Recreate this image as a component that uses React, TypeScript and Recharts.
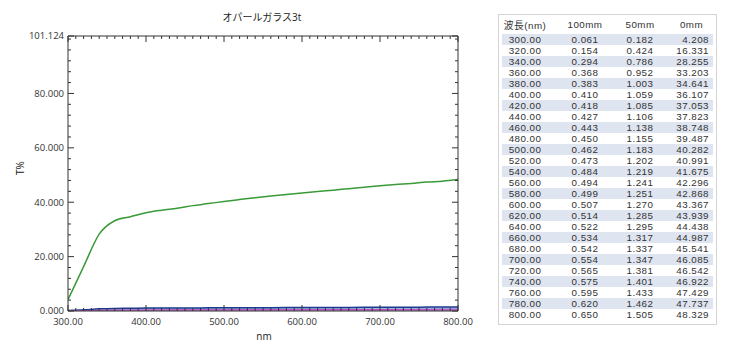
import { ComposedChart, Line, Area, XAxis, YAxis } from 'recharts'

const wavelengths = [
  300, 320, 340, 360, 380, 400, 420, 440, 460, 480, 500, 520, 540,
  560, 580, 600, 620, 640, 660, 680, 700, 720, 740, 760, 780, 800,
]
const t100mm = [
  0.061, 0.154, 0.294, 0.368, 0.383, 0.41, 0.418, 0.427, 0.443, 0.45, 0.462, 0.473, 0.484,
  0.494, 0.499, 0.507, 0.514, 0.522, 0.534, 0.542, 0.554, 0.565, 0.575, 0.595, 0.62, 0.65,
]
const t50mm = [
  0.182, 0.424, 0.786, 0.952, 1.003, 1.059, 1.085, 1.106, 1.138, 1.155, 1.183, 1.202, 1.219,
  1.241, 1.251, 1.27, 1.285, 1.295, 1.317, 1.337, 1.347, 1.381, 1.401, 1.433, 1.462, 1.505,
]
const t0mm = [
  4.208, 16.331, 28.255, 33.203, 34.641, 36.107, 37.053, 37.823, 38.748, 39.487, 40.282, 40.991, 41.675,
  42.296, 42.868, 43.367, 43.939, 44.438, 44.987, 45.541, 46.085, 46.542, 46.922, 47.429, 47.737, 48.329,
]

const xMajorTicks = [300, 400, 500, 600, 700, 800]
const yMajorTicks = [0, 20, 40, 60, 80, 101.124]
const yMax = 101.124

const tableHeaders = ['波長(nm)', '100mm', '50mm', '0mm']

// minor ticks: every 10 nm on x, every 4 on y
const xTicks: number[] = []
for (let v = 300; v <= 800; v += 10) xTicks.push(v)
const yTicks: number[] = []
for (let v = 0; v <= 100; v += 4) yTicks.push(v)
yMajorTicks.forEach((v) => { if (!yTicks.includes(v)) yTicks.push(v) })
yTicks.sort((a, b) => a - b)

const data = wavelengths.map((w, i) => ({
  nm: w,
  t100: t100mm[i],
  t50: t50mm[i],
  t0: t0mm[i],
}))

const FONT = '"Open Sans", "Noto Sans CJK JP", sans-serif'
const TABLE_FONT = '"Liberation Sans", "Noto Sans CJK JP", sans-serif'
const AXIS = '#333'
const tickText = { fontFamily: FONT, fontSize: 9.5, fill: '#333' }

// ─── ticks (drawn inward, like the source plot) ────────────────────

function BottomTick(props: any) {
  const { x, y, payload } = props
  const major = xMajorTicks.includes(payload.value)
  return (
    <g>
      <line x1={x} x2={x} y1={y} y2={y - (major ? 6 : 3)} stroke={AXIS} />
      {major && (
        <text x={x} y={y + 14} textAnchor="middle" {...tickText}>
          {payload.value.toFixed(2)}
        </text>
      )}
    </g>
  )
}

function TopTick(props: any) {
  const { x, y, payload } = props
  const major = xMajorTicks.includes(payload.value)
  return <line x1={x} x2={x} y1={y} y2={y + (major ? 6 : 3)} stroke={AXIS} />
}

function LeftTick(props: any) {
  const { x, y, payload } = props
  const major = yMajorTicks.includes(payload.value)
  return (
    <g>
      <line x1={x} x2={x + (major ? 6 : 3)} y1={y} y2={y} stroke={AXIS} />
      {major && (
        <text x={x - 4} y={y + 3.3} textAnchor="end" {...tickText}>
          {payload.value.toFixed(3)}
        </text>
      )}
    </g>
  )
}

function RightTick(props: any) {
  const { x, y, payload } = props
  const major = yMajorTicks.includes(payload.value)
  return <line x1={x} x2={x - (major ? 6 : 3)} y1={y} y2={y} stroke={AXIS} />
}

// ─── table ────────────────────

const colWidths = [46, 74, 36, 51]
const colAlign: ('center' | 'right')[] = ['center', 'center', 'center', 'right']

function DataTable() {
  const rows = wavelengths.map((w, i) => [
    w.toFixed(2),
    t100mm[i].toFixed(3),
    t50mm[i].toFixed(3),
    t0mm[i].toFixed(3),
  ])
  return (
    <div
      style={{
        position: 'absolute',
        left: 498,
        top: 14,
        width: 219,
        height: 311,
        boxSizing: 'border-box',
        border: '1px solid #d4d4d4',
        background: '#fff',
        paddingLeft: 3,
        fontFamily: TABLE_FONT,
        fontSize: 9.8,
        letterSpacing: 0.45,
        color: '#333',
      }}
    >
      <div style={{ display: 'flex', height: 19, alignItems: 'center' }}>
        {tableHeaders.map((h, c) => (
          <div
            key={h}
            style={{
              width: colWidths[c],
              textAlign: colAlign[c],
              paddingRight: c === 3 ? 6 : 0,
              boxSizing: 'border-box',
            }}
          >
            {h}
          </div>
        ))}
      </div>
      {rows.map((r, i) => (
        <div
          key={i}
          style={{
            display: 'flex',
            height: 11,
            lineHeight: '11px',
            width: 211,
            background: i % 2 === 0 ? '#dfe5f0' : 'transparent',
          }}
        >
          {r.map((cell, c) => (
            <div key={c} style={{ width: colWidths[c], textAlign: colAlign[c] }}>
              {cell}
            </div>
          ))}
        </div>
      ))}
    </div>
  )
}

// ─── App ────────────────────

export default function App() {
  return (
    <div style={{ position: 'absolute', left: 0, top: 0, width: 730, height: 356, background: '#fff' }}>
      <div
        style={{
          position: 'absolute',
          left: 162,
          width: 200,
          top: 9,
          textAlign: 'center',
          fontFamily: FONT,
          fontSize: 10,
          color: '#222',
        }}
      >
        オパールガラス3t
      </div>
      <div
        style={{
          position: 'absolute',
          left: 0,
          top: 161,
          width: 40,
          textAlign: 'center',
          transform: 'rotate(-90deg)',
          fontFamily: FONT,
          fontSize: 10,
          color: '#222',
        }}
      >
        T%
      </div>
      <div
        style={{
          position: 'absolute',
          left: 214,
          width: 100,
          top: 329,
          textAlign: 'center',
          fontFamily: FONT,
          fontSize: 10,
          color: '#222',
        }}
      >
        nm
      </div>

      <div style={{ position: 'absolute', left: 0, top: 0 }}>
        <ComposedChart
          width={480}
          height={356}
          data={data}
          margin={{ top: 31, right: 17, bottom: 15, left: 0 }}
        >
          <XAxis
            xAxisId="b"
            dataKey="nm"
            type="number"
            domain={[300, 800]}
            ticks={xTicks}
            interval={0}
            allowDataOverflow
            height={30}
            tickLine={false}
            tickSize={0}
            tickMargin={0}
            axisLine={{ stroke: AXIS }}
            tick={<BottomTick />}
          />
          <XAxis
            xAxisId="t"
            orientation="top"
            dataKey="nm"
            type="number"
            domain={[300, 800]}
            ticks={xTicks}
            interval={0}
            allowDataOverflow
            height={5}
            tickLine={false}
            tickSize={0}
            tickMargin={0}
            axisLine={{ stroke: AXIS }}
            tick={<TopTick />}
          />
          <YAxis
            yAxisId="l"
            type="number"
            domain={[0, yMax]}
            ticks={yTicks}
            interval={0}
            allowDataOverflow
            width={68}
            tickLine={false}
            tickSize={0}
            tickMargin={0}
            axisLine={{ stroke: AXIS }}
            tick={<LeftTick />}
          />
          <YAxis
            yAxisId="r"
            orientation="right"
            type="number"
            domain={[0, yMax]}
            ticks={yTicks}
            interval={0}
            allowDataOverflow
            width={5}
            tickLine={false}
            tickSize={0}
            tickMargin={0}
            axisLine={{ stroke: AXIS }}
            tick={<RightTick />}
          />
          <Area
            xAxisId="b"
            yAxisId="l"
            type="monotone"
            dataKey="t50"
            stroke="#1d3b8e"
            strokeWidth={1.5}
            fill="#8fb0e6"
            fillOpacity={0.9}
            isAnimationActive={false}
          />
          <Area
            xAxisId="b"
            yAxisId="l"
            type="monotone"
            dataKey="t100"
            stroke="#c04ac0"
            strokeWidth={1}
            fill="#b985cf"
            fillOpacity={1}
            isAnimationActive={false}
          />
          <Line
            xAxisId="b"
            yAxisId="l"
            type="monotone"
            dataKey="t0"
            stroke="#3a9a38"
            strokeWidth={1.5}
            dot={false}
            isAnimationActive={false}
          />
        </ComposedChart>
      </div>

      <DataTable />
    </div>
  )
}
